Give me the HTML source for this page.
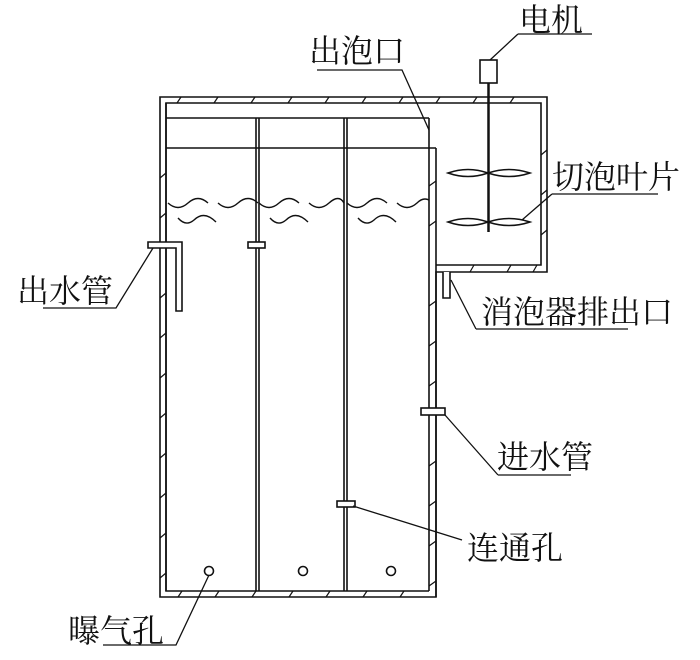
<!DOCTYPE html>
<html><head><meta charset="utf-8"><style>
html,body{margin:0;padding:0;background:#fff}
svg{display:block}
text{font-family:"Liberation Serif","Noto Serif CJK SC",serif;font-size:32px;fill:#111}
</style></head><body>
<svg width="700" height="660" viewBox="0 0 700 660" xmlns="http://www.w3.org/2000/svg">
<g fill="none" stroke="#111" stroke-width="1.6">
<path d="M160,597 V97 H547 V272 H436 V597 Z"/>
<path d="M166,591 V103 H541 V265 H436"/>
<path d="M166,103 V591 H429"/>
<path d="M429,118 V591"/>
<path d="M436,148 V597"/>
<path d="M166,118 H429"/>
<path d="M166,148 H436"/>
<path d="M256,118 V591 M259,118 V591 M344,118 V591 M347,118 V591"/>
<g stroke-width="1.4">
<path d="M168,203 q10,9 20,0 q10,-9 20,0"/><path d="M218,203 q10,9 20,0 q10,-9 20,0"/>
<path d="M178,218 q8,9 16,2 q10,-10 22,2"/>
<path d="M259,203 q10,9 20,0 q10,-9 20,0"/><path d="M309,203 q10,9 20,0 q10,-9 15,0"/>
<path d="M270,218 q8,9 16,2 q10,-10 22,2"/>
<path d="M347,203 q10,9 20,0 q10,-9 20,0"/><path d="M397,203 q10,9 20,0 q6,-6 12,-3"/>
<path d="M358,218 q8,9 16,2 q10,-10 22,2"/>
</g>
<g stroke-width="1.2">
<path d="M177,103 l4,-6 M214,103 l4,-6 M251,103 l4,-6 M288,103 l4,-6 M325,103 l4,-6 M362,103 l4,-6 M399,103 l4,-6 M436,103 l4,-6 M473,103 l4,-6 M510,103 l4,-6"/>
<path d="M160,178 l6,-5 M160,218 l6,-5 M160,298 l6,-5 M160,338 l6,-5 M160,378 l6,-5 M160,418 l6,-5 M160,458 l6,-5 M160,498 l6,-5 M160,538 l6,-5 M160,578 l6,-5"/>
<path d="M429,186 l7,-5 M429,226 l7,-5 M429,306 l7,-5 M429,346 l7,-5 M429,386 l7,-5 M429,466 l7,-5 M429,506 l7,-5 M429,546 l7,-5 M429,586 l7,-5"/>
<path d="M541,155 l6,-5 M541,195 l6,-5 M541,235 l6,-5"/>
<path d="M470,272 l4,-7 M507,272 l4,-7 M533,272 l4,-7"/>
<path d="M178,597 l4,-6 M215,597 l4,-6 M252,597 l4,-6 M289,597 l4,-6 M326,597 l4,-6 M363,597 l4,-6 M400,597 l4,-6"/>
</g>
<path d="M443,272 V298 H450 V272" fill="#fff"/>
<path d="M148,242 H182 V311 H176 V248 H148 Z" fill="#fff"/>
<rect x="248" y="242" width="17" height="6" fill="#fff"/>
<rect x="337" y="501" width="18" height="6" fill="#fff"/>
<rect x="421" y="408" width="24" height="7" fill="#fff"/>
<circle cx="209" cy="571" r="4.5"/><circle cx="303" cy="571" r="4.5"/><circle cx="391" cy="571" r="4.5"/>
<rect x="480" y="60" width="17" height="23"/>
<path d="M488.5,83 V232" stroke-width="2.5"/>
<path d="M448,173 q20,-7 40,0 q-20,7 -40,0 Z M488,173 q21,-7 42,0 q-21,7 -42,0 Z"/>
<path d="M448,222 q20,-7 40,0 q-20,7 -40,0 Z M488,222 q21,-7 42,0 q-21,7 -42,0 Z"/>
<g stroke-width="1.3">
<path d="M518,34 H592 M518,34 L490,60"/>
<path d="M317,70 H402 L429,130"/>
<path d="M552,194 H658 M552,194 L522,220"/>
<path d="M43,308 H116 L153,248"/>
<path d="M476,329 H628 M476,329 L451,280"/>
<path d="M498,475 H571 M498,475 L445,415"/>
<path d="M462,540 L353,506"/>
<path d="M103,645 H176 L209,575"/>
</g>
</g>
<text x="519" y="31">电机</text>
<text x="309" y="62">出泡口</text>
<text x="552" y="188">切泡叶片</text>
<text x="17" y="302">出水管</text>
<text x="481" y="323">消泡器排出口</text>
<text x="497" y="468">进水管</text>
<text x="467" y="559">连通孔</text>
<text x="68" y="642">曝气孔</text>
</svg>
</body></html>
